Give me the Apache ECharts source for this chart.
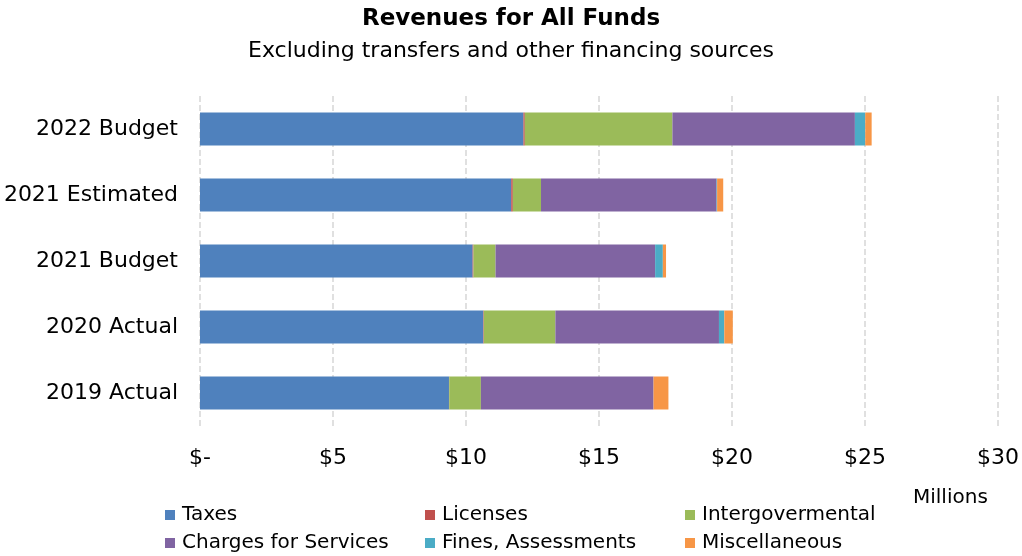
<!DOCTYPE html>
<html><head><meta charset="utf-8">
<script src="https://cdn.jsdelivr.net/npm/echarts@6/dist/echarts.min.js"></script>
<style>html,body{margin:0;padding:0;background:#fff}#c{width:1022px;height:556px}</style>
</head><body><div id="c"></div>
<script>
const categories = ["2022 Budget", "2021 Estimated", "2021 Budget", "2020 Actual", "2019 Actual"];
const seriesNames = ["Taxes", "Licenses", "Intergovermental", "Charges for Services", "Fines, Assessments", "Miscellaneous"];
const taxes        = [12.16, 11.70, 10.25, 10.65, 9.36];
const licenses     = [0.05, 0.06, 0.03, 0.02, 0.01];
const intergov     = [5.55, 1.06, 0.83, 2.69, 1.19];
const charges      = [6.86, 6.60, 6.00, 6.15, 6.49];
const fines        = [0.39, 0.02, 0.29, 0.20, 0.00];
const misc         = [0.24, 0.23, 0.12, 0.32, 0.56];
const tickLabels   = ["$-", "$5", "$10", "$15", "$20", "$25", "$30"];
const colors = ["#4F81BD", "#C0504D", "#9BBB59", "#8064A2", "#4BACC6", "#F79646"];
const values = [taxes, licenses, intergov, charges, fines, misc];

const font = "'DejaVu Sans', sans-serif";
const legendPos = [[165, 505], [425, 505], [685, 505], [165, 533], [425, 533], [685, 533]];
const chart = echarts.init(document.getElementById('c'));
chart.setOption({
  animation: false,
  textStyle: { fontFamily: font },
  title: [
    { text: "Revenues for All Funds", left: 'center', top: 3,
      textStyle: { fontSize: 23, fontWeight: 'bold', color: '#000', fontFamily: font } },
    { text: "Excluding transfers and other financing sources", left: 'center', top: 35,
      textStyle: { fontSize: 22, fontWeight: 'normal', color: '#000', fontFamily: font } },
    { text: "Millions", left: 908, top: 483,
      textStyle: { fontSize: 20, fontWeight: 'normal', color: '#000', fontFamily: font } }
  ],
  legend: seriesNames.map((n, i) => ({
    data: [n], left: legendPos[i][0], top: legendPos[i][1], padding: 0,
    itemWidth: 10, itemHeight: 10, icon: 'rect', itemGap: 4,
    textStyle: { fontSize: 20, color: '#000', fontFamily: font, padding: [0,0,0,2] }
  })),
  grid: { left: 200, right: 24, top: 96, bottom: 130, containLabel: false },
  xAxis: {
    type: 'value', min: 0, max: 30, interval: 5,
    axisLine: { show: false }, axisTick: { show: false },
    splitLine: { show: true, lineStyle: { color: '#d6d6d6', type: 'dashed', width: 1.5 } },
    axisLabel: { fontSize: 22, color: '#000', margin: 21, fontFamily: font,
      formatter: (v) => tickLabels[Math.round(v / 5)] }
  },
  yAxis: {
    type: 'category', data: categories, inverse: true,
    axisLine: { show: false }, axisTick: { show: false },
    axisLabel: { fontSize: 22, color: '#000', margin: 22, fontFamily: font }
  },
  series: seriesNames.map((n, i) => ({
    name: n, type: 'bar', stack: 'total', data: values[i], barWidth: '50%',
    itemStyle: { color: colors[i] }
  }))
});
</script></body></html>
